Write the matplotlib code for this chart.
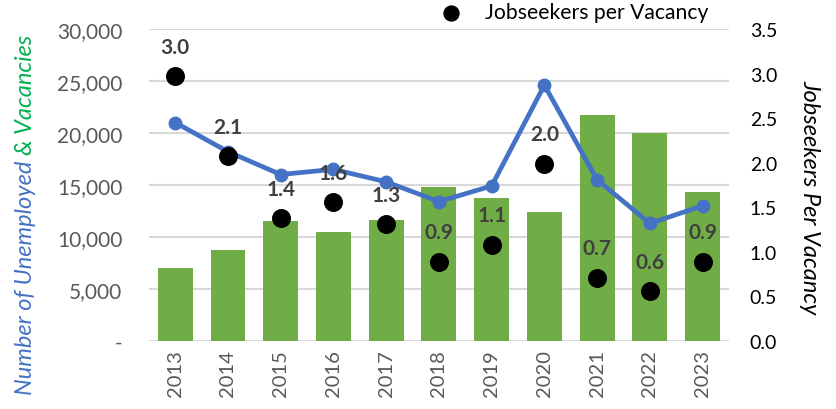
import numpy as np
import matplotlib.pyplot as plt
from matplotlib.ticker import FuncFormatter

plt.rcParams['font.family'] = ['Lato', 'DejaVu Sans']

years = ['2013', '2014', '2015', '2016', '2017', '2018', '2019', '2020', '2021', '2022', '2023']
vacancies = [7000, 8700, 11500, 10500, 11600, 14800, 13700, 12400, 21700, 20000, 14300]
unemployed = [21000, 18200, 16000, 16500, 15300, 13400, 14900, 24600, 15500, 11300, 13000]
ratio = [2.97, 2.07, 1.38, 1.56, 1.31, 0.89, 1.08, 1.99, 0.71, 0.56, 0.89]
ratio_labels = ['3.0', '2.1', '1.4', '1.6', '1.3', '0.9', '1.1', '2.0', '0.7', '0.6', '0.9']

blue = '#4472C4'
green = '#70AD47'
label_green = '#00B050'
grey = '#595959'

fig = plt.figure(figsize=(8.36, 4.10), dpi=100)
ax = fig.add_axes([0.178, 0.166, 0.694, 0.761])
ax2 = ax.twinx()

x = np.arange(len(years))
ax.bar(x, vacancies, width=0.66, color=green, zorder=2)
ax.plot(x, unemployed, color=blue, lw=3.4, marker='o', ms=9, zorder=3)

ax.set_ylim(0, 30000)
ax.set_yticks(np.arange(0, 30001, 5000))
ax.yaxis.set_major_formatter(FuncFormatter(lambda v, p: '-' if v == 0 else f'{int(v):,}'))
ax.set_xlim(-0.5, len(years) - 0.5)
ax.set_xticks(x)
ax.set_xticklabels(years, rotation=90)
ax.grid(axis='y', color='#D9D9D9', lw=1.5, zorder=0)
ax.set_axisbelow(True)
ax.tick_params(axis='y', length=0, labelsize=15, labelcolor=grey, pad=19)
ax.tick_params(axis='x', length=0, labelsize=14.5, labelcolor=grey, pad=6)

ax2.scatter(x, ratio, s=160, color='black', zorder=4, label='Jobseekers per Vacancy')
for xi, yi, lab in zip(x, ratio, ratio_labels):
    ax2.annotate(lab, (xi, yi), xytext=(0, 21), textcoords='offset points',
                 ha='center', va='center', fontsize=15, fontweight='bold', color='#404040')
ax2.set_ylim(0, 3.5)
ax2.set_yticks(np.arange(0, 3.51, 0.5))
ax2.yaxis.set_major_formatter(FuncFormatter(lambda v, p: f'{v:.1f}'))
ax2.tick_params(axis='y', length=0, labelsize=14, labelcolor='black', pad=15)

for a in (ax, ax2):
    for s in a.spines.values():
        s.set_visible(False)

ax2.legend(loc='center left', bbox_to_anchor=(0.492, 0.968), bbox_transform=fig.transFigure,
           frameon=False, fontsize=15.2, handletextpad=0.6, markerscale=0.85)

# two-coloured left axis label
fig.canvas.draw()
r = fig.canvas.get_renderer()
t1 = fig.text(0.03, 0.037, 'Number of Unemployed ', rotation=90, color=blue,
              fontsize=17, style='italic', ha='center', va='bottom')
bb = t1.get_window_extent(renderer=r)
y2 = (bb.y1) / fig.bbox.height
fig.text(0.03, y2, '& Vacancies', rotation=90, color=label_green,
         fontsize=17, style='italic', ha='center', va='bottom')

fig.text(0.969, 0.52, 'Jobseekers Per Vacancy', rotation=-90, color='black',
         fontsize=17, style='italic', ha='center', va='center')

fig.savefig('out.png', dpi=100)
